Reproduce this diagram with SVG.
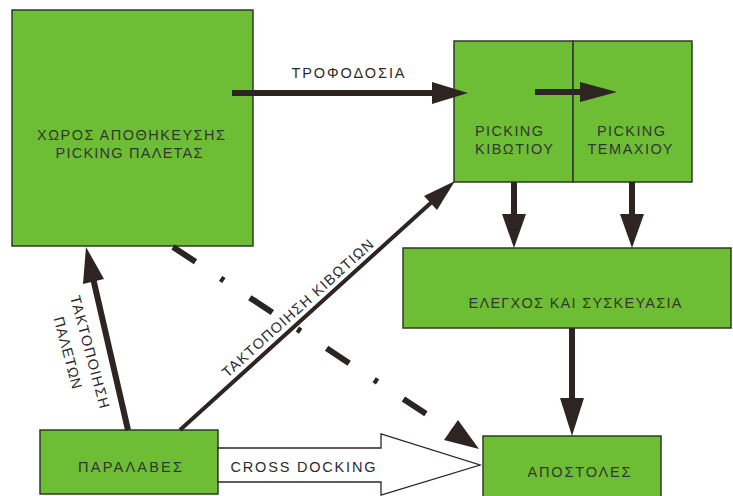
<svg xmlns="http://www.w3.org/2000/svg" width="733" height="496" viewBox="0 0 733 496">
  <style>
    .box { fill: #6dbe35; stroke: #2f3a27; stroke-width: 1.5; }
    .lbl { font-family: "Liberation Sans", Arial, sans-serif; font-size: 14.5px; fill: #333631; text-anchor: middle; }
    .elbl { font-family: "Liberation Sans", Arial, sans-serif; font-size: 14.5px; fill: #2b2b2b; text-anchor: middle; }
    .shaft { stroke: #2e2522; stroke-width: 6; fill: none; }
    .head { fill: #2e2522; }
  </style>
  <rect width="733" height="496" fill="#ffffff"/>

  <!-- nodes -->
  <g id="storage">
    <rect class="box" x="12" y="10" width="241" height="236"/>
    <text class="lbl" x="131" y="140" textLength="188">ΧΩΡΟΣ ΑΠΟΘΗΚΕΥΣΗΣ</text>
    <text class="lbl" x="129" y="158" textLength="147">PICKING ΠΑΛΕΤΑΣ</text>
  </g>
  <g id="picking-box">
    <rect class="box" x="454" y="41" width="119" height="141"/>
    <text class="lbl" x="509" y="136" textLength="68">PICKING</text>
    <text class="lbl" x="514" y="154" textLength="78">ΚΙΒΩΤΙΟΥ</text>
  </g>
  <g id="picking-item">
    <rect class="box" x="573" y="41" width="119" height="141"/>
    <text class="lbl" x="631" y="136" textLength="68">PICKING</text>
    <text class="lbl" x="630" y="154" textLength="85">ΤΕΜΑΧΙΟΥ</text>
  </g>
  <g id="packing">
    <rect class="box" x="403" y="248" width="328" height="80"/>
    <text class="lbl" x="575" y="308" textLength="213">ΕΛΕΓΧΟΣ ΚΑΙ ΣΥΣΚΕΥΑΣΙΑ</text>
  </g>
  <g id="receiving">
    <rect class="box" x="40" y="430" width="178" height="64"/>
    <text class="lbl" x="130" y="472" textLength="104">ΠΑΡΑΛΑΒΕΣ</text>
  </g>
  <g id="shipping">
    <rect class="box" x="483" y="436" width="178" height="64"/>
    <text class="lbl" x="579" y="477" textLength="103">ΑΠΟΣΤΟΛΕΣ</text>
  </g>

  <!-- connectors -->
  <g id="connectors">
    <!-- replenishment -->
    <line class="shaft" x1="232" y1="93" x2="436" y2="93"/>
    <polygon class="head" points="432,82 468,93 432,104"/>
    <text class="elbl" x="348" y="78" textLength="113">ΤΡΟΦΟΔΟΣΙΑ</text>

    <!-- box picking to item picking -->
    <line class="shaft" x1="535" y1="92" x2="584" y2="92"/>
    <polygon class="head" points="580,82 617,92 580,102"/>

    <!-- picking down to packing -->
    <line class="shaft" x1="514" y1="182" x2="514" y2="218"/>
    <polygon class="head" points="502,214 514,248 526,214"/>
    <line class="shaft" x1="632" y1="182" x2="632" y2="218"/>
    <polygon class="head" points="620,214 632,248 644,214"/>

    <!-- packing to shipping -->
    <line class="shaft" x1="572" y1="328" x2="572" y2="402"/>
    <polygon class="head" points="560,398 572,436 584,398"/>

    <!-- pallet put-away -->
    <line class="shaft" x1="128" y1="430" x2="93" y2="278"/>
    <polygon class="head" points="86,247 104,279 83,284"/>
    <text class="elbl" transform="translate(85,353) rotate(75)" x="0" y="0" textLength="116">ΤΑΚΤΟΠΟΙΗΣΗ</text>
    <text class="elbl" transform="translate(63,354) rotate(75)" x="0" y="0" textLength="74">ΠΑΛΕΤΩΝ</text>

    <!-- carton put-away -->
    <line class="shaft" x1="180" y1="430" x2="434" y2="200" style="stroke-width:4"/>
    <polygon class="head" points="455,181 437,210 424,196"/>
    <text class="elbl" transform="translate(301,312) rotate(-42)" x="0" y="0" textLength="198">ΤΑΚΤΟΠΟΙΗΣΗ ΚΙΒΩΤΙΩΝ</text>

    <!-- storage direct to shipping (dash-dot) -->
    <line x1="173" y1="247" x2="452" y2="431" stroke="#2a2422" stroke-width="6" stroke-dasharray="27 30 4 31"/>
    <polygon class="head" points="479,449 444,440 458,420"/>

    <!-- cross docking -->
    <polygon points="218,448 381,448 381,434 480,465 381,495 381,482 218,482" fill="#ffffff" stroke="#2e2522" stroke-width="1.3"/>
    <text class="elbl" x="303" y="472" textLength="145">CROSS DOCKING</text>
  </g>
</svg>
